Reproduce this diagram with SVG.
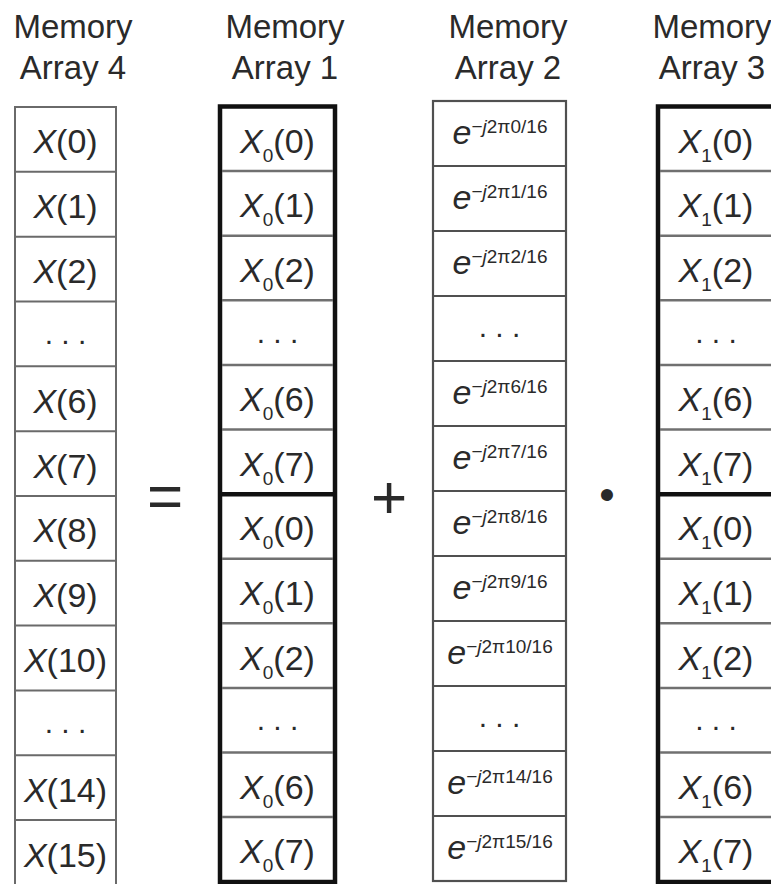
<svg xmlns="http://www.w3.org/2000/svg" width="771" height="884" viewBox="0 0 771 884">
<style>
text{font-family:"Liberation Sans",Arial,Helvetica,sans-serif;fill:#2a2a2a}
.h{font-size:33px;text-anchor:middle}
.c{font-size:34px;text-anchor:middle}
.it{font-style:italic}
.sub{font-size:19px}
.ex{font-size:34px;text-anchor:middle}
.sup{font-size:19px}
.dots{font-size:30px;text-anchor:middle}
.op{font-size:62px;text-anchor:middle}
.bul{font-size:44px;text-anchor:middle}
.thin{fill:#fff;stroke:#6a6a6a;stroke-width:2}
.thin3{fill:#fff;stroke:#505050;stroke-width:2.2}
.thick{fill:#fff;stroke:#111;stroke-width:4.5}
.div1{stroke:#6a6a6a;stroke-width:2}
.div3{stroke:#505050;stroke-width:2.2}
.divk{stroke:#707070;stroke-width:2.5}
.mid{stroke:#111;stroke-width:4.5}
</style>
<rect width="771" height="884" fill="#fff"/>
<g id="headers">
<g id="header-array4"><text class="h" x="73" y="38">Memory</text><text class="h" x="73" y="79">Array 4</text></g>
<g id="header-array1"><text class="h" x="285" y="38">Memory</text><text class="h" x="285" y="79">Array 1</text></g>
<g id="header-array2"><text class="h" x="508" y="38">Memory</text><text class="h" x="508" y="79">Array 2</text></g>
<g id="header-array3"><text class="h" x="712" y="38">Memory</text><text class="h" x="712" y="79">Array 3</text></g>
</g>
<g id="connectors"></g>
<g id="array4">
<rect class="thin" x="15" y="107" width="101" height="778"/>
<line class="div1" x1="15" x2="116" y1="171.8" y2="171.8"/>
<line class="div1" x1="15" x2="116" y1="236.7" y2="236.7"/>
<line class="div1" x1="15" x2="116" y1="301.5" y2="301.5"/>
<line class="div1" x1="15" x2="116" y1="366.3" y2="366.3"/>
<line class="div1" x1="15" x2="116" y1="431.2" y2="431.2"/>
<line class="div1" x1="15" x2="116" y1="496" y2="496"/>
<line class="div1" x1="15" x2="116" y1="560.8" y2="560.8"/>
<line class="div1" x1="15" x2="116" y1="625.6" y2="625.6"/>
<line class="div1" x1="15" x2="116" y1="690.5" y2="690.5"/>
<line class="div1" x1="15" x2="116" y1="755.3" y2="755.3"/>
<line class="div1" x1="15" x2="116" y1="820.1" y2="820.1"/>
<text class="c" x="65.5" y="153.4"><tspan class="it">X</tspan>(0)</text>
<text class="c" x="65.5" y="218.2"><tspan class="it">X</tspan>(1)</text>
<text class="c" x="65.5" y="283.1"><tspan class="it">X</tspan>(2)</text>
<text class="dots" x="65.5" y="343.9">. . .</text>
<text class="c" x="65.5" y="412.7"><tspan class="it">X</tspan>(6)</text>
<text class="c" x="65.5" y="477.6"><tspan class="it">X</tspan>(7)</text>
<text class="c" x="65.5" y="542.4"><tspan class="it">X</tspan>(8)</text>
<text class="c" x="65.5" y="607.2"><tspan class="it">X</tspan>(9)</text>
<text class="c" x="65.5" y="672.1"><tspan class="it">X</tspan>(10)</text>
<text class="dots" x="65.5" y="732.9">. . .</text>
<text class="c" x="65.5" y="801.7"><tspan class="it">X</tspan>(14)</text>
<text class="c" x="65.5" y="866.6"><tspan class="it">X</tspan>(15)</text>
</g>
<g id="op-equals"><text class="op" x="165" y="517">=</text></g>
<g id="array1">
<rect class="thick" x="220" y="106.5" width="115" height="775.5"/>
<line class="divk" x1="222" x2="333" y1="171.1" y2="171.1"/>
<line class="divk" x1="222" x2="333" y1="235.7" y2="235.7"/>
<line class="divk" x1="222" x2="333" y1="300.3" y2="300.3"/>
<line class="divk" x1="222" x2="333" y1="364.9" y2="364.9"/>
<line class="divk" x1="222" x2="333" y1="429.5" y2="429.5"/>
<line class="mid" x1="220" x2="335" y1="494.3" y2="494.3"/>
<line class="divk" x1="222" x2="333" y1="558.7" y2="558.7"/>
<line class="divk" x1="222" x2="333" y1="623.3" y2="623.3"/>
<line class="divk" x1="222" x2="333" y1="687.9" y2="687.9"/>
<line class="divk" x1="222" x2="333" y1="752.5" y2="752.5"/>
<line class="divk" x1="222" x2="333" y1="817.1" y2="817.1"/>
<text class="c" x="277.5" y="152.8"><tspan class="it">X</tspan><tspan class="sub" dy="9">0</tspan><tspan dy="-9">(0)</tspan></text>
<text class="c" x="277.5" y="217.4"><tspan class="it">X</tspan><tspan class="sub" dy="9">0</tspan><tspan dy="-9">(1)</tspan></text>
<text class="c" x="277.5" y="282"><tspan class="it">X</tspan><tspan class="sub" dy="9">0</tspan><tspan dy="-9">(2)</tspan></text>
<text class="dots" x="277.5" y="342.6">. . .</text>
<text class="c" x="277.5" y="411.2"><tspan class="it">X</tspan><tspan class="sub" dy="9">0</tspan><tspan dy="-9">(6)</tspan></text>
<text class="c" x="277.5" y="475.8"><tspan class="it">X</tspan><tspan class="sub" dy="9">0</tspan><tspan dy="-9">(7)</tspan></text>
<text class="c" x="277.5" y="540.4"><tspan class="it">X</tspan><tspan class="sub" dy="9">0</tspan><tspan dy="-9">(0)</tspan></text>
<text class="c" x="277.5" y="605"><tspan class="it">X</tspan><tspan class="sub" dy="9">0</tspan><tspan dy="-9">(1)</tspan></text>
<text class="c" x="277.5" y="669.6"><tspan class="it">X</tspan><tspan class="sub" dy="9">0</tspan><tspan dy="-9">(2)</tspan></text>
<text class="dots" x="277.5" y="730.2">. . .</text>
<text class="c" x="277.5" y="798.8"><tspan class="it">X</tspan><tspan class="sub" dy="9">0</tspan><tspan dy="-9">(6)</tspan></text>
<text class="c" x="277.5" y="863.4"><tspan class="it">X</tspan><tspan class="sub" dy="9">0</tspan><tspan dy="-9">(7)</tspan></text>
</g>
<g id="op-plus"><text class="op" x="389" y="518">+</text></g>
<g id="array2">
<rect class="thin3" x="433" y="101" width="133" height="780"/>
<line class="div3" x1="433" x2="566" y1="166" y2="166"/>
<line class="div3" x1="433" x2="566" y1="231" y2="231"/>
<line class="div3" x1="433" x2="566" y1="296" y2="296"/>
<line class="div3" x1="433" x2="566" y1="361" y2="361"/>
<line class="div3" x1="433" x2="566" y1="426" y2="426"/>
<line class="div3" x1="433" x2="566" y1="491" y2="491"/>
<line class="div3" x1="433" x2="566" y1="556" y2="556"/>
<line class="div3" x1="433" x2="566" y1="621" y2="621"/>
<line class="div3" x1="433" x2="566" y1="686" y2="686"/>
<line class="div3" x1="433" x2="566" y1="751" y2="751"/>
<line class="div3" x1="433" x2="566" y1="816" y2="816"/>
<text class="ex" x="500" y="144"><tspan class="it">e</tspan><tspan class="sup" dy="-11">−<tspan class="it">j</tspan>2π0/16</tspan></text>
<text class="ex" x="500" y="209"><tspan class="it">e</tspan><tspan class="sup" dy="-11">−<tspan class="it">j</tspan>2π1/16</tspan></text>
<text class="ex" x="500" y="274"><tspan class="it">e</tspan><tspan class="sup" dy="-11">−<tspan class="it">j</tspan>2π2/16</tspan></text>
<text class="dots" x="499.5" y="336.5">. . .</text>
<text class="ex" x="500" y="404"><tspan class="it">e</tspan><tspan class="sup" dy="-11">−<tspan class="it">j</tspan>2π6/16</tspan></text>
<text class="ex" x="500" y="469"><tspan class="it">e</tspan><tspan class="sup" dy="-11">−<tspan class="it">j</tspan>2π7/16</tspan></text>
<text class="ex" x="500" y="534"><tspan class="it">e</tspan><tspan class="sup" dy="-11">−<tspan class="it">j</tspan>2π8/16</tspan></text>
<text class="ex" x="500" y="599"><tspan class="it">e</tspan><tspan class="sup" dy="-11">−<tspan class="it">j</tspan>2π9/16</tspan></text>
<text class="ex" x="500" y="664"><tspan class="it">e</tspan><tspan class="sup" dy="-11">−<tspan class="it">j</tspan>2π10/16</tspan></text>
<text class="dots" x="499.5" y="726.5">. . .</text>
<text class="ex" x="500" y="794"><tspan class="it">e</tspan><tspan class="sup" dy="-11">−<tspan class="it">j</tspan>2π14/16</tspan></text>
<text class="ex" x="500" y="859"><tspan class="it">e</tspan><tspan class="sup" dy="-11">−<tspan class="it">j</tspan>2π15/16</tspan></text>
</g>
<g id="op-dot"><text class="bul" x="607" y="510">•</text></g>
<g id="array3">
<rect class="thick" x="658" y="106.5" width="120" height="775.5"/>
<line class="divk" x1="660" x2="778" y1="171.1" y2="171.1"/>
<line class="divk" x1="660" x2="778" y1="235.7" y2="235.7"/>
<line class="divk" x1="660" x2="778" y1="300.3" y2="300.3"/>
<line class="divk" x1="660" x2="778" y1="364.9" y2="364.9"/>
<line class="divk" x1="660" x2="778" y1="429.5" y2="429.5"/>
<line class="mid" x1="658" x2="778" y1="494.3" y2="494.3"/>
<line class="divk" x1="660" x2="778" y1="558.7" y2="558.7"/>
<line class="divk" x1="660" x2="778" y1="623.3" y2="623.3"/>
<line class="divk" x1="660" x2="778" y1="687.9" y2="687.9"/>
<line class="divk" x1="660" x2="778" y1="752.5" y2="752.5"/>
<line class="divk" x1="660" x2="778" y1="817.1" y2="817.1"/>
<text class="c" x="716" y="152.8"><tspan class="it">X</tspan><tspan class="sub" dy="9">1</tspan><tspan dy="-9">(0)</tspan></text>
<text class="c" x="716" y="217.4"><tspan class="it">X</tspan><tspan class="sub" dy="9">1</tspan><tspan dy="-9">(1)</tspan></text>
<text class="c" x="716" y="282"><tspan class="it">X</tspan><tspan class="sub" dy="9">1</tspan><tspan dy="-9">(2)</tspan></text>
<text class="dots" x="716" y="342.6">. . .</text>
<text class="c" x="716" y="411.2"><tspan class="it">X</tspan><tspan class="sub" dy="9">1</tspan><tspan dy="-9">(6)</tspan></text>
<text class="c" x="716" y="475.8"><tspan class="it">X</tspan><tspan class="sub" dy="9">1</tspan><tspan dy="-9">(7)</tspan></text>
<text class="c" x="716" y="540.4"><tspan class="it">X</tspan><tspan class="sub" dy="9">1</tspan><tspan dy="-9">(0)</tspan></text>
<text class="c" x="716" y="605"><tspan class="it">X</tspan><tspan class="sub" dy="9">1</tspan><tspan dy="-9">(1)</tspan></text>
<text class="c" x="716" y="669.6"><tspan class="it">X</tspan><tspan class="sub" dy="9">1</tspan><tspan dy="-9">(2)</tspan></text>
<text class="dots" x="716" y="730.2">. . .</text>
<text class="c" x="716" y="798.8"><tspan class="it">X</tspan><tspan class="sub" dy="9">1</tspan><tspan dy="-9">(6)</tspan></text>
<text class="c" x="716" y="863.4"><tspan class="it">X</tspan><tspan class="sub" dy="9">1</tspan><tspan dy="-9">(7)</tspan></text>
</g>
</svg>
